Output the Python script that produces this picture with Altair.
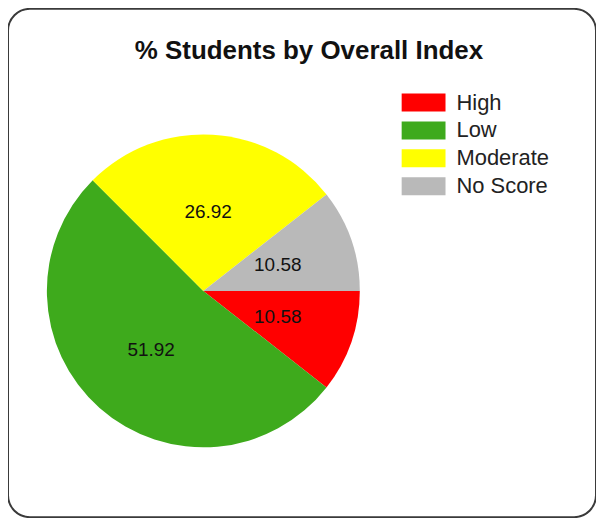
import math
import altair as alt
import pandas as pd

categories = ["High", "Low", "Moderate", "No Score"]
values = [10.58, 51.92, 26.92, 10.58]
colors = ["#FF0000", "#3EAA1C", "#FFFF00", "#B9B9B9"]
title_text = "% Students by Overall Index"

df = pd.DataFrame({"category": categories, "pct": values, "order": list(range(len(categories)))})

color_scale = alt.Scale(domain=categories, range=colors)
theta_scale = alt.Scale(range=[math.pi / 2, math.pi / 2 + 2 * math.pi])

base = alt.Chart(df).encode(
    theta=alt.Theta("pct:Q", stack=True, scale=theta_scale),
    order=alt.Order("order:Q"),
)

pie = base.mark_arc(outerRadius=157, stroke=None).encode(
    x=alt.value(196),
    y=alt.value(283),
    color=alt.Color("category:N", scale=color_scale, sort=categories, legend=None),
)

labels = base.mark_text(radius=79, font="Liberation Sans", fontSize=19, color="#111111").encode(
    x=alt.value(196),
    y=alt.value(283),
    text=alt.Text("pct:Q", format=".2f"),
)

# legend built from the same categories / colour scale
legend_y = alt.Y(
    "category:N",
    sort=categories,
    scale=alt.Scale(type="point", range=[94, 178], padding=0),
    axis=None,
)

swatches = alt.Chart(df).mark_point(
    shape="M-1,-0.41H1V0.41H-1Z", size=1936, filled=True, opacity=1, strokeWidth=0
).encode(
    x=alt.value(417),
    y=legend_y,
    color=alt.Color("category:N", scale=color_scale, sort=categories, legend=None),
)

legend_text = alt.Chart(df).mark_text(
    align="left", baseline="middle", font="Liberation Sans", fontSize=22, color="#222222"
).encode(
    x=alt.value(450),
    y=legend_y,
    text="category:N",
)

title = alt.Chart(pd.DataFrame({"t": [title_text]})).mark_text(
    font="Liberation Sans", fontSize=26, fontWeight="bold", color="#111111"
).encode(x=alt.value(302), y=alt.value(42), text="t:N")

chart = (
    alt.layer(pie, labels, swatches, legend_text, title)
    .properties(width=590, height=510, padding=0, background="white")
    .configure_view(stroke="#3a3a3a", strokeWidth=2, cornerRadius=22)
)

chart.save("out.html", embed_options={"renderer": "svg", "actions": False})
